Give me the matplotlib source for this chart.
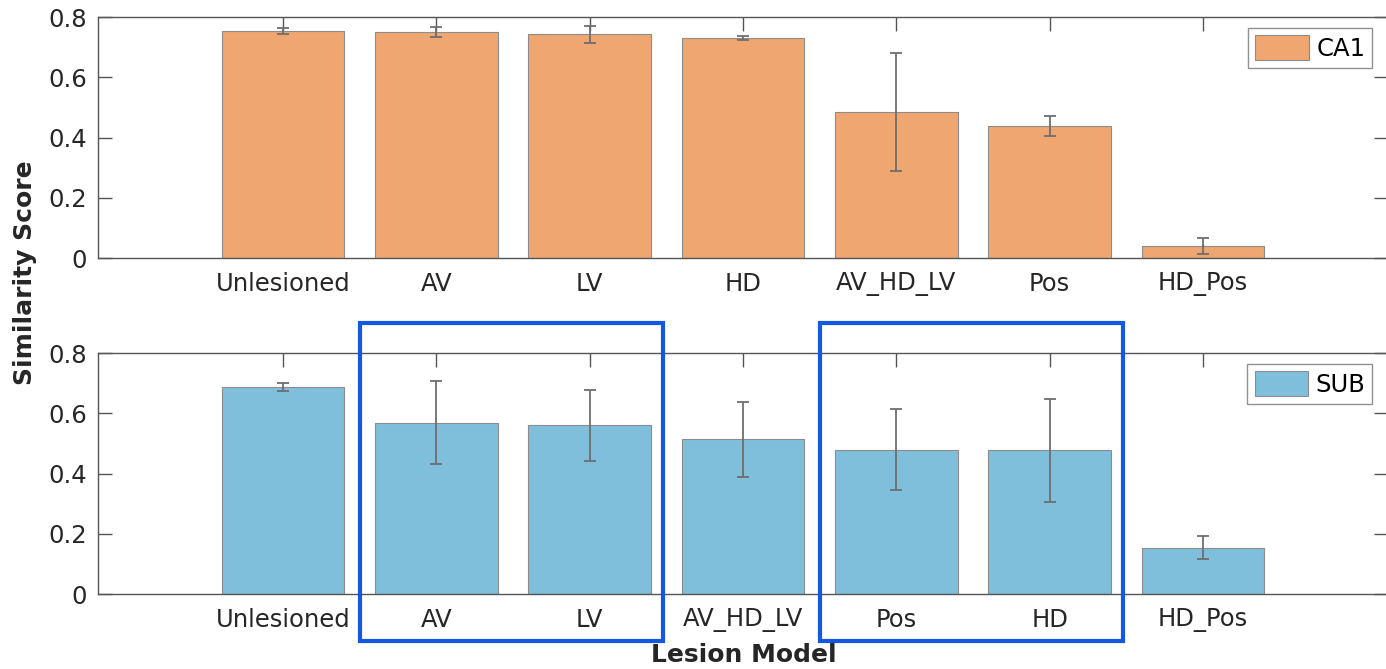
import numpy as np
import matplotlib
matplotlib.use("Agg")
import matplotlib.pyplot as plt
from matplotlib.patches import Rectangle

# lesion models, in plotting order for each region
ca1_models = ["Unlesioned", "AV", "LV", "HD", "AV_HD_LV", "Pos", "HD_Pos"]
ca1_score = [0.755, 0.751, 0.743, 0.730, 0.485, 0.438, 0.040]
ca1_err = [0.010, 0.017, 0.028, 0.007, 0.195, 0.033, 0.026]

sub_models = ["Unlesioned", "AV", "LV", "AV_HD_LV", "Pos", "HD", "HD_Pos"]
sub_score = [0.687, 0.568, 0.560, 0.513, 0.479, 0.477, 0.154]
sub_err = [0.013, 0.138, 0.117, 0.126, 0.134, 0.170, 0.039]

# groups highlighted in the SUB panel (first, last category index)
highlight = [(1, 2), (4, 5)]

plt.rcParams["font.family"] = ["DejaVu Sans"]

fig = plt.figure(figsize=(13.86, 6.69), dpi=100)
ax_top = fig.add_axes([0.0707, 0.6143, 0.9307, 0.3602])
ax_bot = fig.add_axes([0.0707, 0.1121, 0.9307, 0.3602])


def bar_panel(ax, names, vals, errs, color, label):
    x = np.arange(len(names))
    ax.bar(x, vals, width=0.8, color=color, edgecolor="#8c8c8c",
           linewidth=0.8, label=label, zorder=2)
    ax.errorbar(x, vals, yerr=errs, fmt="none", ecolor="#6e6e6e",
                elinewidth=1.3, capsize=4, capthick=1.3, zorder=3)
    ax.set_xlim(-1.207, len(names) - 1 + 1.207)
    ax.set_ylim(0, 0.8)
    ax.set_xticks(x)
    ax.set_xticklabels(names)
    ax.set_yticks([0, 0.2, 0.4, 0.6, 0.8])
    ax.set_yticklabels(["0", "0.2", "0.4", "0.6", "0.8"])
    ax.tick_params(direction="in", length=10, width=1, color="#555555",
                   top=True, right=True, labelsize=17.5, pad=8,
                   labelcolor="#262626")
    ax.tick_params(axis="x", pad=10)
    for s in ax.spines.values():
        s.set_color("#555555")
        s.set_linewidth(1)
    leg = ax.legend(loc="upper right", fontsize=17.5, frameon=True,
                    fancybox=False, edgecolor="#777777", handlelength=2.2,
                    handleheight=1.2, borderpad=0.3, handletextpad=0.3,
                    borderaxespad=0, bbox_to_anchor=(0.988, 0.955))
    leg.get_frame().set_linewidth(1)
    return x


bar_panel(ax_top, ca1_models, ca1_score, ca1_err, "#f0a670", "CA1")
bar_panel(ax_bot, sub_models, sub_score, sub_err, "#80bfdb", "SUB")

for lo, hi in highlight:
    ax_bot.add_patch(Rectangle((lo - 0.5, -0.155), hi - lo + 0.98, 1.054,
                               fill=False, edgecolor="#1457e0", linewidth=3,
                               clip_on=False, zorder=5))

fig.text(0.018, 0.592, "Similarity Score", rotation=90, ha="center",
         va="center", fontsize=18, fontweight="bold", color="#262626")
fig.text(0.537, 0.021, "Lesion Model", ha="center", va="center",
         fontsize=18, fontweight="bold", color="#262626")

fig.savefig("out.png", dpi=100)
